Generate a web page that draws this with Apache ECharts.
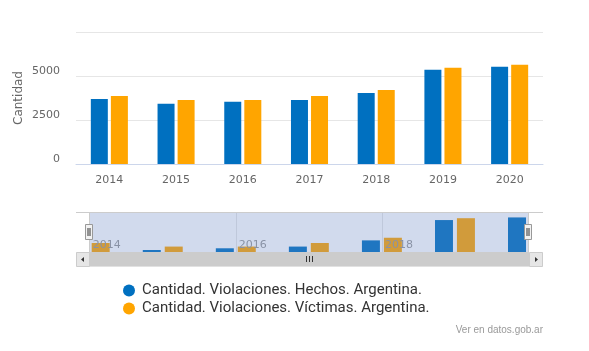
<!DOCTYPE html>
<html lang="es">
<head>
    <meta charset="UTF-8">
    <title>Violaciones - Argentina</title>
    <script src="https://cdn.jsdelivr.net/npm/echarts@6/dist/echarts.min.js"></script>
    <style>
        html, body { margin: 0; padding: 0; background: #fff; }
        #main { width: 589px; height: 351px; }
    </style>
</head>
<body>
<div id="main"></div>
<script type="text/javascript">
    // datos
    var years = ['2014', '2015', '2016', '2017', '2018', '2019', '2020'];
    var hechos = [3700, 3420, 3530, 3640, 4040, 5350, 5520];
    var victimas = [3870, 3640, 3640, 3870, 4210, 5470, 5640];
    var yTicks = [0, 2500, 5000, 7500];
    var navRange = [3290, 5870];

    var nameHechos = 'Cantidad. Violaciones. Hechos. Argentina.';
    var nameVictimas = 'Cantidad. Violaciones. Víctimas. Argentina.';
    var blue = '#0070c0';
    var orange = '#ffa500';

    // serie del navegador (eje temporal)
    function navData(values) {
        var out = [];
        for (var i = 0; i < years.length; i++) {
            out.push([Number(years[i]), values[i]]);
        }
        return out;
    }

    var myChart = echarts.init(document.getElementById('main'));

    var option = {
        animation: false,
        color: [blue, orange],
        textStyle: { fontFamily: 'DejaVu Sans' },
        grid: [
            { left: 76, right: 46, top: 32, height: 132 },
            { left: 89.7, right: 61, top: 212, height: 40 }
        ],
        legend: {
            data: [nameHechos, nameVictimas],
            orient: 'vertical',
            left: 123,
            top: 283,
            padding: 0,
            itemGap: 3,
            itemWidth: 12,
            itemHeight: 12,
            icon: 'circle',
            textStyle: { fontFamily: 'Roboto', fontSize: 15, color: '#333333', padding: [0, 0, 0, 2] }
        },
        xAxis: [{
            type: 'category',
            data: years,
            gridIndex: 0,
            axisLine: { lineStyle: { color: '#ccd6eb' } },
            axisTick: { alignWithLabel: true, length: 10, lineStyle: { color: '#ccd6eb' } },
            axisLabel: { color: '#666666', fontSize: 11, margin: 11 }
        }, {
            type: 'value',
            gridIndex: 1,
            z: 5,
            min: Number(years[0]),
            max: Number(years[years.length - 1]),
            interval: 2,
            axisLine: { show: false },
            axisTick: { show: false },
            splitLine: { show: true, lineStyle: { color: '#e6e6e6' } },
            axisLabel: {
                inside: true,
                align: 'left',
                margin: 1,
                padding: [0, 0, 0, 3],
                showMaxLabel: false,
                color: '#999999',
                fontSize: 11,
                formatter: function (v) { return String(v); }
            }
        }],
        yAxis: [{
            type: 'value',
            gridIndex: 0,
            min: yTicks[0],
            max: yTicks[yTicks.length - 1],
            interval: yTicks[1] - yTicks[0],
            name: 'Cantidad',
            nameLocation: 'middle',
            nameGap: 51,
            nameMoveOverlap: false,
            nameTextStyle: { color: '#666666', fontSize: 12 },
            axisLine: { show: false },
            axisTick: { show: false },
            splitLine: { lineStyle: { color: '#e6e6e6' } },
            axisLabel: {
                color: '#666666',
                fontSize: 11,
                margin: 16,
                verticalAlign: 'bottom',
                padding: [0, 0, -1, 0],
                showMaxLabel: false,
                formatter: function (v) { return String(v); }
            }
        }, {
            type: 'value',
            gridIndex: 1,
            min: navRange[0],
            max: navRange[1],
            show: false,
            splitLine: { show: false }
        }],
        series: [{
            name: nameHechos,
            type: 'bar',
            data: hechos,
            barWidth: 17,
            barGap: '18%'
        }, {
            name: nameVictimas,
            type: 'bar',
            data: victimas,
            barWidth: 17,
            barGap: '18%'
        }, {
            name: 'nav-hechos',
            type: 'bar',
            xAxisIndex: 1,
            yAxisIndex: 1,
            data: navData(hechos),
            barWidth: 18,
            barGap: '22%',
            clip: true,
            silent: true,
            itemStyle: { color: blue }
        }, {
            name: 'nav-victimas',
            type: 'bar',
            xAxisIndex: 1,
            yAxisIndex: 1,
            data: navData(victimas),
            barWidth: 18,
            barGap: '22%',
            clip: true,
            silent: true,
            itemStyle: { color: orange }
        }],
        graphic: [
            // bordes blancos fuera del navegador
            { type: 'rect', z: 99, silent: true, shape: { x: 60, y: 212, width: 29.5, height: 40 },
              style: { fill: '#ffffff' } },
            { type: 'rect', z: 99, silent: true, shape: { x: 528.5, y: 212, width: 30, height: 40 },
              style: { fill: '#ffffff' } },
            // mascara del navegador
            { type: 'rect', z: 100, silent: true, shape: { x: 89.5, y: 212.5, width: 439, height: 39.5 },
              style: { fill: 'rgba(102,133,194,0.3)' } },
            { type: 'line', z: 101, silent: true, shape: { x1: 76, y1: 212.5, x2: 543, y2: 212.5 },
              style: { stroke: '#cccccc', lineWidth: 1 } },
            { type: 'line', z: 101, silent: true, shape: { x1: 89.5, y1: 212.5, x2: 89.5, y2: 252 },
              style: { stroke: '#cccccc', lineWidth: 1 } },
            { type: 'line', z: 101, silent: true, shape: { x1: 528.5, y1: 212.5, x2: 528.5, y2: 252 },
              style: { stroke: '#cccccc', lineWidth: 1 } },
            // barra de desplazamiento
            { type: 'rect', z: 100, silent: true, shape: { x: 76, y: 252, width: 467, height: 14.5 },
              style: { fill: '#f2f2f2' } },
            { type: 'rect', z: 101, silent: true, shape: { x: 89, y: 252, width: 440, height: 14.5 },
              style: { fill: '#cccccc' } },
            { type: 'rect', z: 102, silent: true, shape: { x: 76.5, y: 252.5, width: 13, height: 14 },
              style: { fill: '#e6e6e6', stroke: '#cccccc', lineWidth: 1 } },
            { type: 'rect', z: 102, silent: true, shape: { x: 529.5, y: 252.5, width: 13, height: 14 },
              style: { fill: '#e6e6e6', stroke: '#cccccc', lineWidth: 1 } },
            { type: 'polygon', z: 103, silent: true, shape: { points: [[81, 259.5], [84, 257], [84, 262]] },
              style: { fill: '#333333' } },
            { type: 'polygon', z: 103, silent: true, shape: { points: [[538, 259.5], [535, 257], [535, 262]] },
              style: { fill: '#333333' } },
            { type: 'line', z: 103, silent: true, shape: { x1: 306.5, y1: 256, x2: 306.5, y2: 262 },
              style: { stroke: '#333333', lineWidth: 1 } },
            { type: 'line', z: 103, silent: true, shape: { x1: 309.5, y1: 256, x2: 309.5, y2: 262 },
              style: { stroke: '#333333', lineWidth: 1 } },
            { type: 'line', z: 103, silent: true, shape: { x1: 312.5, y1: 256, x2: 312.5, y2: 262 },
              style: { stroke: '#333333', lineWidth: 1 } },
            // manijas
            { type: 'rect', z: 104, silent: true, shape: { x: 85.5, y: 224.5, width: 7, height: 15 },
              style: { fill: '#f2f2f2', stroke: '#999999', lineWidth: 1 } },
            { type: 'line', z: 105, silent: true, shape: { x1: 88, y1: 228, x2: 88, y2: 236 },
              style: { stroke: '#333333', lineWidth: 1 } },
            { type: 'line', z: 105, silent: true, shape: { x1: 90, y1: 228, x2: 90, y2: 236 },
              style: { stroke: '#333333', lineWidth: 1 } },
            { type: 'rect', z: 104, silent: true, shape: { x: 524.5, y: 224.5, width: 7, height: 15 },
              style: { fill: '#f2f2f2', stroke: '#999999', lineWidth: 1 } },
            { type: 'line', z: 105, silent: true, shape: { x1: 527, y1: 228, x2: 527, y2: 236 },
              style: { stroke: '#333333', lineWidth: 1 } },
            { type: 'line', z: 105, silent: true, shape: { x1: 529, y1: 228, x2: 529, y2: 236 },
              style: { stroke: '#333333', lineWidth: 1 } },
            // fuente
            { type: 'text', z: 100, silent: true, right: 46, top: 325,
              style: { text: 'Ver en datos.gob.ar', fill: '#999999', font: '10px "Liberation Sans"' } }
        ]
    };

    myChart.setOption(option);
</script>
</body>
</html>
